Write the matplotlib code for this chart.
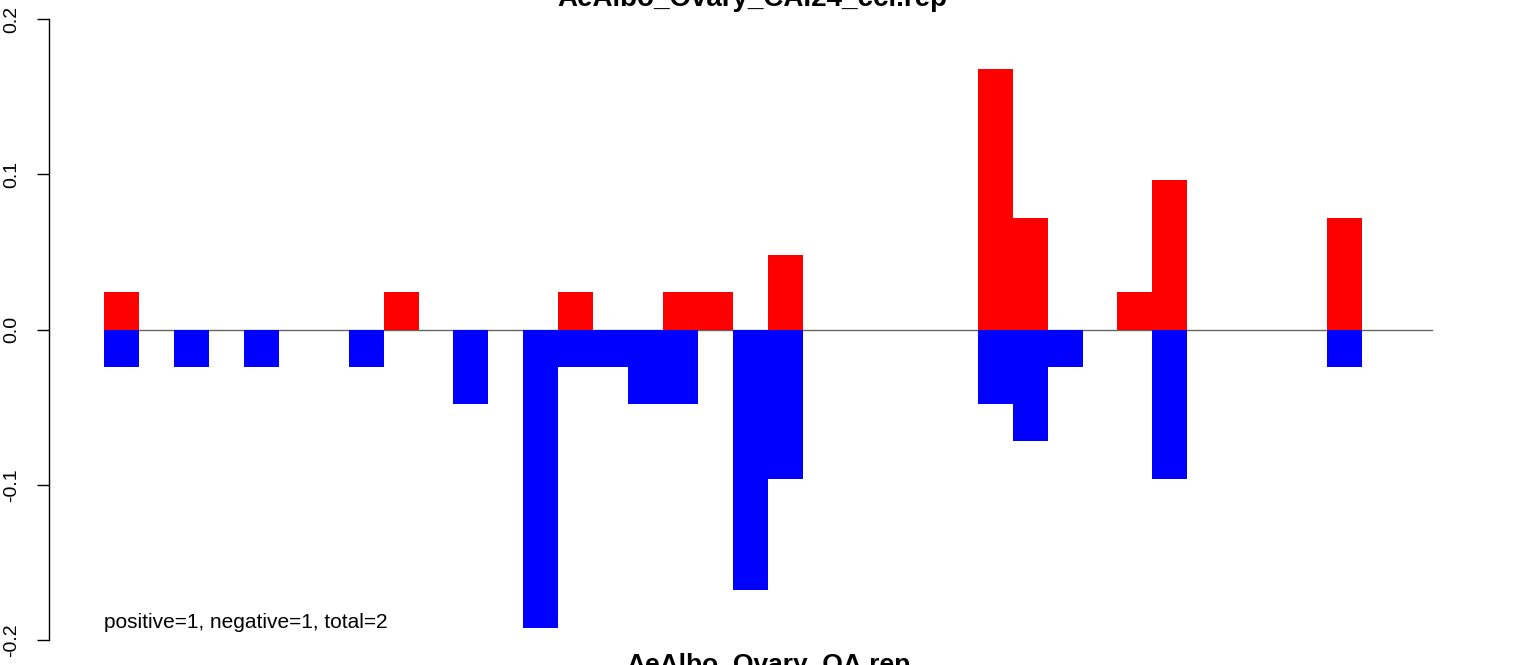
import numpy as np
import matplotlib
matplotlib.use('Agg')
import matplotlib.pyplot as plt

plt.rcParams['font.family'] = ['Liberation Sans', 'DejaVu Sans']

## fraction of reads per bin, 38 bins
n_bins = 38
pos_bins = [0, 8, 13, 16, 17, 19, 25, 26, 29, 30, 35]
pos_vals = [0.024, 0.024, 0.024, 0.024, 0.024, 0.048, 0.168, 0.072, 0.024, 0.096, 0.072]
neg_bins = [0, 2, 4, 7, 10, 12, 13, 14, 15, 16, 18, 19, 25, 26, 27, 30, 35]
neg_vals = [-0.024, -0.024, -0.024, -0.024, -0.048, -0.192, -0.024, -0.024, -0.048,
            -0.048, -0.168, -0.096, -0.048, -0.072, -0.024, -0.096, -0.024]

title = 'AeAlbo_Ovary_CAI24_ccl.rep'
xlab = 'AeAlbo_Ovary_OA.rep'
note = 'positive=1, negative=1, total=2'
yticks = [-0.2, -0.1, 0.0, 0.1, 0.2]

W, H = 1533, 665
fig = plt.figure(figsize=(W / 100, H / 100), dpi=100)
ax = fig.add_axes([49 / W, 0, (1485 - 49) / W, 1])

# zero line first, bars on top
ax.plot([0, n_bins], [0, 0], color='#666666', lw=1, zorder=1)
ax.bar(pos_bins, pos_vals, width=1, align='edge', color='#ff0000', lw=0, zorder=2)
ax.bar(neg_bins, neg_vals, width=1, align='edge', color='#0000ff', lw=0, zorder=2)

bw = (1432 - 104) / n_bins
ax.set_xlim((49 - 104) / bw, (1485 - 104) / bw)
ppu = (640 - 19) / 0.4
ax.set_ylim(0.2 - (H - 19) / ppu, 0.2 + 19 / ppu)

for s in ['top', 'right', 'bottom']:
    ax.spines[s].set_visible(False)
ax.spines['left'].set_bounds(-0.2, 0.2)
ax.spines['left'].set_linewidth(1)
ax.set_xticks([])
ax.set_yticks(yticks)
ax.set_yticklabels(['%.1f' % v for v in yticks])
ax.tick_params(axis='y', length=8.6, width=1, pad=12, labelsize=14, labelrotation=90)
for lab in ax.get_yticklabels():
    lab.set_va('center')

ax.text(0, 0.2 - (622 - 19) / ppu, note, ha='left', va='center', fontsize=15)

fig.text(752 / W, 1 - 6 / H, title, ha='center', va='baseline', fontsize=20, fontweight='bold')
fig.text(768 / W, -7 / H, xlab, ha='center', va='baseline', fontsize=19, fontweight='bold')

fig.savefig('out.png', dpi=100)
